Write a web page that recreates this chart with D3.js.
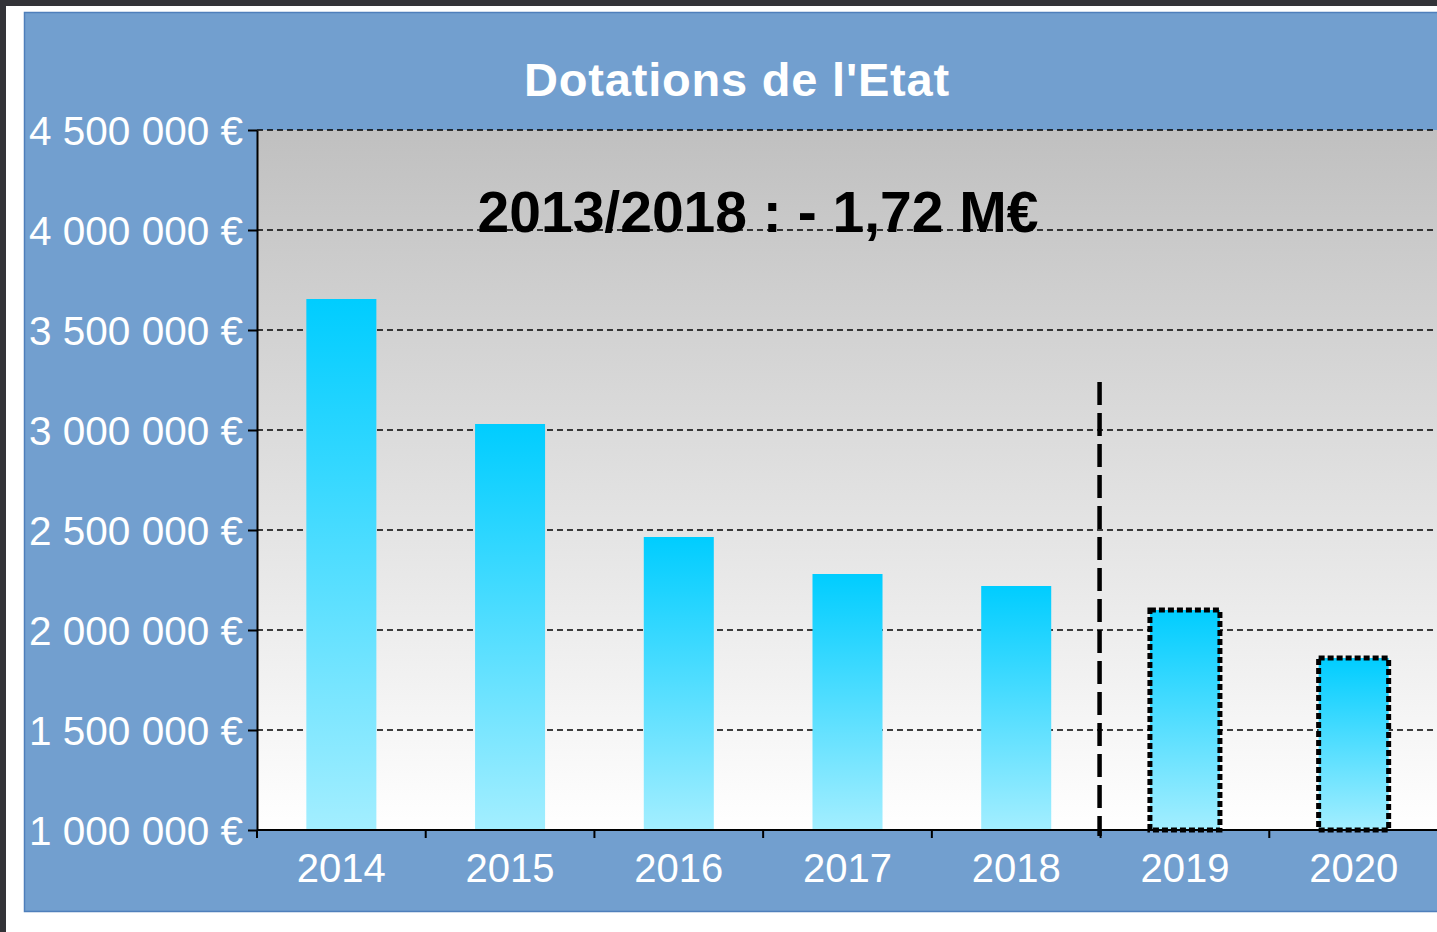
<!DOCTYPE html>
<html>
<head>
<meta charset="utf-8">
<script src="https://cdn.jsdelivr.net/npm/d3@7"></script>
<style>
  html, body { margin: 0; padding: 0; background: #333338; overflow: hidden; }
  text { font-family: "Liberation Sans", Arial, sans-serif; }
</style>
</head>
<body>
<div id="chart"></div>
<script>
// =================================== DATA ===================================

const years = ['2014', '2015', '2016', '2017', '2018', '2019', '2020']
const values = [3655000, 3030000, 2465000, 2280000, 2220000, 2100000, 1860000]
const projected = [false, false, false, false, false, true, true]
const yTicks = [1000000, 1500000, 2000000, 2500000, 3000000, 3500000, 4000000, 4500000]
const title = "Dotations de l'Etat"
const note = '2013/2018 : - 1,72 M€'
const separatorTop = 3240000

// =================================== SETTINGS ===================================

const width = 1437
const height = 932
const plot = { left: 257, right: 1438, top: 130, bottom: 830 }

const svg = d3.select('#chart').append('svg')
  .attr('width', width)
  .attr('height', height)

const defs = svg.append('defs')

const bgGrad = defs.append('linearGradient')
  .attr('id', 'bg').attr('x1', 0).attr('y1', 0).attr('x2', 0).attr('y2', 1)
bgGrad.append('stop').attr('offset', '0%').attr('stop-color', '#c0c0c0')
bgGrad.append('stop').attr('offset', '100%').attr('stop-color', '#ffffff')

const barGrad = defs.append('linearGradient')
  .attr('id', 'bar').attr('x1', 0).attr('y1', 0).attr('x2', 0).attr('y2', 1)
barGrad.append('stop').attr('offset', '0%').attr('stop-color', '#00cdff')
barGrad.append('stop').attr('offset', '100%').attr('stop-color', '#a3eeff')

// frame + panel
svg.append('rect').attr('x', 6).attr('y', 6).attr('width', width).attr('height', height)
  .attr('fill', '#ffffff')
svg.append('rect').attr('x', 24.5).attr('y', 12.5).attr('width', width).attr('height', 899)
  .attr('fill', '#729fcf').attr('stroke', '#4f7fbb').attr('stroke-width', 1.5)

// =================================== SCALES ===================================

const x = d3.scaleBand().domain(years).range([plot.left, plot.right]).padding(0)
const y = d3.scaleLinear().domain([1000000, 4500000]).range([plot.bottom, plot.top])
const barW = x.bandwidth() * 0.415

const fmt = v => d3.format(',')(v).replace(/,/g, ' ') + ' €'

// plot background
svg.append('rect')
  .attr('x', plot.left).attr('y', plot.top)
  .attr('width', plot.right - plot.left).attr('height', plot.bottom - plot.top)
  .attr('fill', 'url(#bg)')

// =================================== GRID ===================================

svg.append('g').selectAll('line')
  .data(yTicks.filter(d => d > 1000000))
  .enter().append('line')
  .attr('x1', plot.left).attr('x2', plot.right)
  .attr('y1', d => y(d)).attr('y2', d => y(d))
  .attr('stroke', '#000').attr('stroke-width', 1.3)
  .attr('stroke-dasharray', '6,4')

// =================================== BARS ===================================

svg.append('g').selectAll('rect')
  .data(years.map((d, i) => ({ year: d, value: values[i], proj: projected[i] })))
  .enter().append('rect')
  .attr('x', d => x(d.year) + (x.bandwidth() - barW) / 2)
  .attr('y', d => y(d.value))
  .attr('width', barW)
  .attr('height', d => y(1000000) - y(d.value))
  .attr('fill', 'url(#bar)')
  .attr('stroke', d => d.proj ? '#000' : 'none')
  .attr('stroke-width', 5)
  .attr('stroke-dasharray', '6,3')

// =================================== AXES ===================================

const yAxis = svg.append('g')
  .attr('transform', `translate(${plot.left},0)`)
  .call(d3.axisLeft(y).tickValues(yTicks).tickFormat(fmt).tickSize(9).tickSizeOuter(0).tickPadding(5))
yAxis.select('.domain').attr('stroke', '#000').attr('stroke-width', 2)
yAxis.selectAll('.tick line').attr('stroke', '#000').attr('stroke-width', 2)
yAxis.selectAll('.tick text')
  .attr('fill', '#ffffff')
  .attr('font-size', 40.5)
  .attr('font-family', '"Liberation Sans", Arial, sans-serif')
  .attr('dy', '0.36em')

// x axis line and ticks on band boundaries
svg.append('line')
  .attr('x1', plot.left).attr('x2', plot.right)
  .attr('y1', plot.bottom).attr('y2', plot.bottom)
  .attr('stroke', '#000').attr('stroke-width', 2)

svg.append('g').selectAll('line')
  .data(years.concat(['end']))
  .enter().append('line')
  .attr('x1', (d, i) => plot.left + i * x.step())
  .attr('x2', (d, i) => plot.left + i * x.step())
  .attr('y1', plot.bottom).attr('y2', plot.bottom + 8)
  .attr('stroke', '#000').attr('stroke-width', 2)

svg.append('g').selectAll('text')
  .data(years)
  .enter().append('text')
  .attr('x', d => x(d) + x.bandwidth() / 2)
  .attr('y', 882)
  .attr('text-anchor', 'middle')
  .attr('fill', '#ffffff')
  .attr('font-size', 40)
  .text(d => d)

// =================================== SEPARATOR ===================================

svg.append('line')
  .attr('x1', x('2019') - 1).attr('x2', x('2019') - 1)
  .attr('y1', y(separatorTop)).attr('y2', plot.bottom + 6)
  .attr('stroke', '#000').attr('stroke-width', 4.5)
  .attr('stroke-dasharray', '23,8')

// =================================== LABELS ===================================

svg.append('text')
  .attr('x', 737).attr('y', 96)
  .attr('text-anchor', 'middle')
  .attr('fill', '#ffffff')
  .attr('font-weight', 'bold')
  .attr('font-size', 47)
  .attr('letter-spacing', 0.8)
  .text(title)

svg.append('text')
  .attr('x', 758).attr('y', 232)
  .attr('text-anchor', 'middle')
  .attr('fill', '#000')
  .attr('font-weight', 'bold')
  .attr('font-size', 57)
  .text(note)
</script>
</body>
</html>
